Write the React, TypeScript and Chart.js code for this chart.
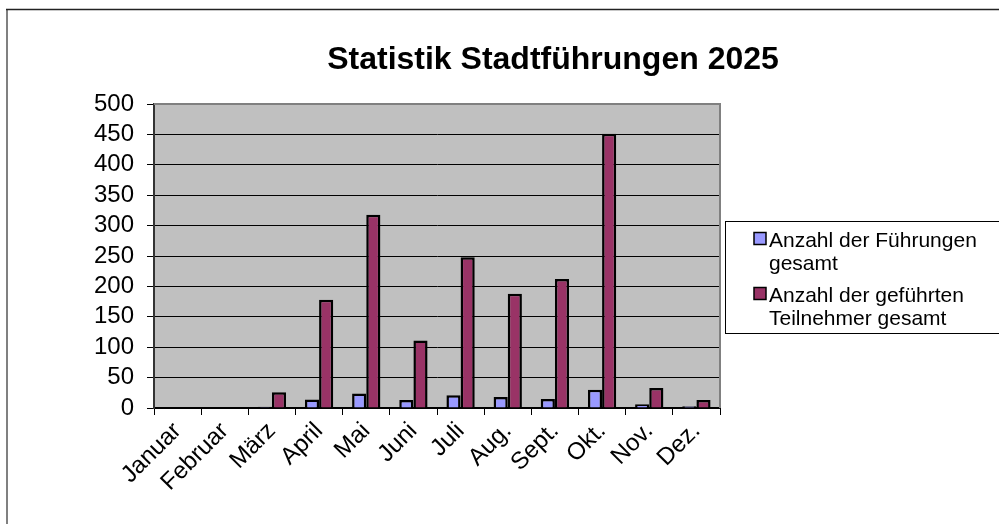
import React, { useEffect, useRef } from "react";
import { Chart, registerables } from "chart.js";

Chart.register(...registerables);

const TITLE = "Statistik Stadtführungen 2025";
const MONTHS = ["Januar", "Februar", "März", "April", "Mai", "Juni", "Juli", "Aug.", "Sept.", "Okt.", "Nov.", "Dez."];
const TOURS = [0, 0, 2, 14, 24, 13, 21, 18, 15, 30, 6, 3];
const PARTICIPANTS = [0, 0, 26, 178, 318, 111, 248, 188, 212, 451, 33, 13];
const LABEL_TOURS = ["Anzahl der Führungen", "gesamt"];
const LABEL_PARTICIPANTS = ["Anzahl der geführten", "Teilnehmer gesamt"];
const COLORS = ["#9999FF", "#993366"];
const Y_MIN = 0;
const Y_MAX = 500;
const Y_STEP = 50;

const FONT = "'Liberation Sans', Arial, sans-serif";

const decorPlugin = {
  id: "decor",
  beforeDraw(chart: any) {
    const { ctx, chartArea } = chart;
    ctx.save();
    ctx.fillStyle = "#ffffff";
    ctx.fillRect(0, 0, chart.width, chart.height);
    // outer frame
    ctx.strokeStyle = "#808080";
    ctx.lineWidth = 2;
    ctx.beginPath();
    ctx.moveTo(7, 10);
    ctx.lineTo(7, chart.height + 5);
    ctx.stroke();
    ctx.strokeStyle = "#222222";
    ctx.lineWidth = 1.5;
    ctx.beginPath();
    ctx.moveTo(6, 9.5);
    ctx.lineTo(chart.width + 5, 9.5);
    ctx.stroke();
    // plot background
    ctx.fillStyle = "#C0C0C0";
    ctx.fillRect(chartArea.left, chartArea.top, chartArea.right - chartArea.left, chartArea.bottom - chartArea.top);
    // title
    ctx.fillStyle = "#000";
    ctx.font = `bold 32px ${FONT}`;
    ctx.textAlign = "center";
    ctx.textBaseline = "alphabetic";
    ctx.fillText(TITLE, 553, 69);
    ctx.restore();
  },
  afterDraw(chart: any) {
    const { ctx, chartArea } = chart;
    ctx.save();
    // plot border top/right
    ctx.strokeStyle = "#808080";
    ctx.lineWidth = 2;
    ctx.beginPath();
    ctx.moveTo(chartArea.left, chartArea.top);
    ctx.lineTo(chartArea.right, chartArea.top);
    ctx.lineTo(chartArea.right, chartArea.bottom);
    ctx.stroke();
    // legend
    const bx = 725.5, by = 221.5, bw = 300, bh = 112;
    ctx.fillStyle = "#fff";
    ctx.fillRect(bx, by, bw, bh);
    ctx.strokeStyle = "#000";
    ctx.lineWidth = 1;
    ctx.strokeRect(bx, by, bw, bh);
    const items = chart.data.datasets.map((d: any) => ({ lines: d.legendLines, color: d.backgroundColor }));
    ctx.font = `21px ${FONT}`;
    ctx.textAlign = "left";
    ctx.textBaseline = "alphabetic";
    let base = 246.5;
    items.forEach((it: any) => {
      ctx.fillStyle = it.color;
      ctx.fillRect(754, base - 14, 12, 12);
      ctx.strokeStyle = "#000";
      ctx.lineWidth = 1.5;
      ctx.strokeRect(754, base - 14, 12, 12);
      ctx.fillStyle = "#000";
      it.lines.forEach((ln: string, i: number) => {
        ctx.fillText(ln, 769, base + i * 23.5);
      });
      base += 55;
    });
    ctx.restore();
  },
};

export default function App() {
  const ref = useRef<HTMLCanvasElement>(null);
  useEffect(() => {
    if (!ref.current) return;
    const chart = new Chart(ref.current, {
      type: "bar",
      data: {
        labels: MONTHS,
        datasets: [
          {
            label: LABEL_TOURS.join(" "),
            legendLines: LABEL_TOURS,
            data: TOURS,
            backgroundColor: COLORS[0],
            borderColor: "#000",
            borderWidth: 2.5,
            categoryPercentage: 0.6,
            barPercentage: 1,
          } as any,
          {
            label: LABEL_PARTICIPANTS.join(" "),
            legendLines: LABEL_PARTICIPANTS,
            data: PARTICIPANTS,
            backgroundColor: COLORS[1],
            borderColor: "#000",
            borderWidth: 2.5,
            categoryPercentage: 0.6,
            barPercentage: 1,
          } as any,
        ],
      },
      options: {
        responsive: false,
        animation: false,
        layout: { padding: { left: 0, right: 279, top: 104, bottom: 0 } },
        plugins: {
          legend: { display: false },
          title: { display: false },
          tooltip: { enabled: false },
        },
        scales: {
          x: {
            afterFit: (s: any) => {
              s.height = 116;
            },
            grid: {
              offset: true,
              drawOnChartArea: false,
              drawTicks: true,
              tickLength: 7,
              color: "#000",
              lineWidth: 1,
            },
            border: { display: true, color: "#000", width: 2 },
            ticks: {
              autoSkip: false,
              minRotation: 45,
              maxRotation: 45,
              color: "#000",
              font: { family: FONT, size: 24 },
              padding: 2,
            },
          },
          y: {
            min: Y_MIN,
            max: Y_MAX,
            afterFit: (s: any) => {
              s.width = 154;
            },
            grid: {
              color: "#000",
              lineWidth: 1,
              drawTicks: true,
              tickLength: 7,
            },
            border: { display: true, color: "#333", width: 2 },
            ticks: {
              autoSkip: false,
              stepSize: Y_STEP,
              color: "#000",
              font: { family: FONT, size: 24 },
              padding: 13,
            },
          },
        },
      },
      plugins: [decorPlugin],
    });
    return () => chart.destroy();
  }, []);
  return (
    <div style={{ position: "fixed", left: 0, top: 0, width: 999, height: 524 }}>
      <canvas ref={ref} width={999} height={524} style={{ width: 999, height: 524, display: "block" }} />
    </div>
  );
}
